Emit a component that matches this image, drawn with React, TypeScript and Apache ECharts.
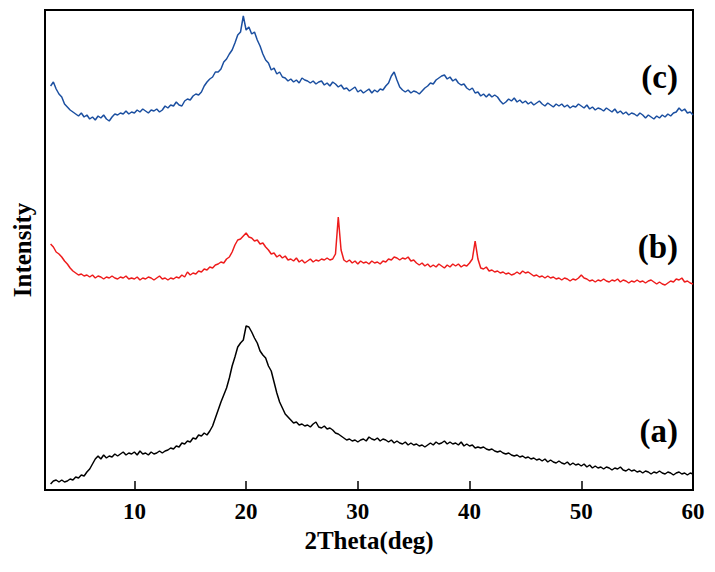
import React, { useEffect, useRef } from "react";
import * as echarts from "echarts";

// Measurement grid: 2θ from 2.5° to 60° every 0.25°
const ANGLE_START = 2.5;
const ANGLE_STEP = 0.25;

// (c) — blue curve (offset intensity, a.u.)
const seriesC = [
  404, 408, 401, 396, 393, 386, 383, 380, 378, 376,
  374, 377, 373, 375, 371, 373, 370, 374, 372, 375,
  371, 369, 373, 376, 375, 377, 376, 379, 376, 378,
  377, 380, 378, 381, 379, 377, 380, 379, 381, 378,
  380, 384, 382, 385, 384, 388, 385, 384, 389, 391,
  390, 394, 396, 395, 398, 404, 408, 411, 413, 418,
  418, 421, 428, 431, 436, 440, 447, 455, 458, 474,
  460, 463, 456, 458, 450, 444, 436, 430, 427, 420,
  422, 416, 418, 413, 412, 409, 411, 408, 410, 407,
  412, 410, 409, 407, 409, 406, 408, 409, 405, 407,
  404, 408, 406, 403, 405, 401, 402, 399, 401, 403,
  398, 400, 397, 399, 401, 397, 400, 398, 401, 400,
  404, 407, 414, 418, 410, 403, 400, 398, 400, 397,
  399, 398, 396, 399, 402, 404, 407, 406, 410, 412,
  414, 415, 411, 413, 409, 411, 407, 405, 406, 402,
  400, 402, 397, 398, 394, 396, 393, 396, 393, 395,
  393, 389, 386, 388, 391, 389, 392, 388, 390, 387,
  389, 386, 388, 385, 387, 389, 386, 384, 387, 385,
  383, 386, 384, 386, 383, 385, 382, 384, 383, 386,
  384, 382, 385, 381, 383, 380, 382, 381, 379, 382,
  380, 378, 381, 377, 379, 376, 378, 375, 377, 376,
  374, 377, 375, 372, 375, 373, 371, 374, 372, 375,
  373, 376, 374, 377, 378, 382, 379, 381, 377, 378,
  375,
];

// (b) — red curve
const seriesB = [
  246, 243, 238, 236, 233, 229, 226, 222, 219, 217,
  215, 216, 214, 215, 213, 215, 212, 214, 213, 211,
  213, 212, 214, 212, 211, 213, 212, 214, 211, 212,
  211, 213, 210, 212, 211, 213, 212, 210, 212, 214,
  211, 212, 210, 212, 211, 213, 212, 215, 213, 218,
  215, 217, 216, 219, 218, 221, 220, 223, 222, 225,
  226, 228, 227, 231, 233, 238, 245, 250, 251, 254,
  257, 253, 252, 249, 250, 246, 247, 243, 240, 236,
  237, 233, 235, 232, 234, 230, 231, 229, 232, 228,
  230, 227, 229, 231, 228, 230, 229, 231, 230, 232,
  230, 231, 236, 273, 240, 230, 228, 230, 227, 229,
  226, 229, 227, 228, 226, 229, 227, 228, 226, 229,
  228, 231, 230, 233, 232, 230, 232, 231, 233, 229,
  230, 227, 225, 227, 224, 226, 223, 225, 223, 226,
  224, 222, 225, 223, 226, 224, 226, 223, 225, 224,
  227, 231, 249, 231, 222, 221, 223, 219, 220, 218,
  219, 217, 218, 216, 217, 215, 216, 218, 216, 219,
  217, 218, 216, 214, 215, 213, 214, 212, 214, 212,
  213, 211, 212, 210, 212, 211, 209, 211, 210, 212,
  215, 212, 211, 209, 210, 208, 210, 209, 211, 209,
  208, 210, 209, 211, 208, 210, 209, 207, 209, 208,
  210, 208, 209, 207, 209, 210, 208, 206, 208, 206,
  205, 207, 209, 208, 211, 210, 212, 208, 209, 207,
  206,
];

// (a) — black curve
const seriesA = [
  6, 9, 10, 8, 10, 8, 9, 11, 10, 13,
  12, 15, 14, 18, 21, 26, 31, 34, 31, 35,
  32, 34, 33, 36, 34, 36, 38, 35, 37, 36,
  38, 35, 39, 36, 37, 35, 38, 36, 37, 39,
  37, 39, 40, 42, 41, 44, 43, 47, 46, 49,
  48, 52, 51, 55, 54, 57, 55, 59, 64, 72,
  80, 88, 95, 102, 112, 124, 133, 143, 147, 150,
  164, 163, 158, 152, 147, 139, 135, 132, 124, 119,
  108, 97, 88, 82, 76, 73, 70, 67, 68, 65,
  66, 64, 65, 63, 66, 68, 63, 62, 64, 61,
  62, 60, 57, 56, 54, 52, 50, 51, 49, 50,
  48, 50, 51, 49, 53, 51, 50, 52, 49, 51,
  50, 48, 50, 47, 49, 47, 46, 48, 45, 47,
  45, 46, 44, 45, 43, 45, 47, 45, 48, 46,
  47, 49, 46, 48, 46, 47, 45, 48, 44, 46,
  44, 45, 42, 43, 42, 43, 41, 40, 41, 39,
  38, 39, 37, 36, 37, 35, 34, 35, 33, 34,
  32, 33, 31, 32, 30, 31, 29, 31, 28, 30,
  28, 27, 29, 27, 26, 28, 25, 27, 25, 26,
  24, 26, 23, 25, 22, 24, 22, 23, 21, 23,
  22, 20, 22, 21, 23, 20, 19, 21, 19, 20,
  18, 19, 17, 19, 18, 16, 18, 17, 19, 17,
  16, 18, 17, 15, 17, 18, 16, 17, 15, 17,
  16,
];

const xTicks = [10, 20, 30, 40, 50, 60];
const curveLabels = ["(c)", "(b)", "(a)"];
const labelLevels = [413, 243, 59];

const FONT = "Liberation Serif";

function toPairs(values: number[]) {
  return values.map((v, i) => [ANGLE_START + i * ANGLE_STEP, v]);
}

export default function App() {
  const ref = useRef<HTMLDivElement>(null);

  useEffect(() => {
    if (!ref.current) return;
    const chart = echarts.init(ref.current, null, { renderer: "svg" });
    const lineSeries = (name: string, values: number[], color: string) => ({
      name,
      type: "line",
      data: toPairs(values),
      showSymbol: false,
      symbol: "none",
      lineStyle: { color, width: 1.5 },
      itemStyle: { color },
      z: 3,
    });
    chart.setOption({
      animation: false,
      backgroundColor: "#ffffff",
      textStyle: { fontFamily: FONT },
      grid: {
        left: 45,
        right: 22,
        top: 10,
        bottom: 82,
        show: true,
        borderColor: "#000",
        borderWidth: 2,
        backgroundColor: "transparent",
        containLabel: false,
      },
      xAxis: {
        type: "value",
        min: 2,
        max: 60,
        name: "2Theta(deg)",
        nameLocation: "middle",
        nameGap: 37,
        nameTextStyle: { fontFamily: FONT, fontWeight: "bold", fontSize: 25, color: "#000" },
        axisLine: { show: true, onZero: false, lineStyle: { color: "#000", width: 2 } },
        axisTick: {
          show: true,
          inside: true,
          length: 9,
          customValues: xTicks,
          lineStyle: { color: "#000", width: 1.5 },
        },
        axisLabel: {
          show: true,
          customValues: xTicks,
          margin: 10,
          fontFamily: FONT,
          fontWeight: "bold",
          fontSize: 23,
          color: "#000",
        },
        splitLine: { show: false },
      },
      yAxis: {
        type: "value",
        min: 0,
        max: 480,
        name: "Intensity",
        nameLocation: "middle",
        nameGap: 10,
        nameRotate: 90,
        nameTextStyle: { fontFamily: FONT, fontWeight: "bold", fontSize: 25, color: "#000" },
        axisLine: { show: true, lineStyle: { color: "#000", width: 2 } },
        axisTick: { show: false },
        axisLabel: { show: false },
        splitLine: { show: false },
      },
      series: [
        lineSeries("(a)", seriesA, "#000000"),
        lineSeries("(b)", seriesB, "#ee1c1c"),
        lineSeries("(c)", seriesC, "#1b4fa0"),
        {
          type: "scatter",
          data: curveLabels.map((t, i) => [60, labelLevels[i]]),
          symbolSize: 0,
          silent: true,
          itemStyle: { opacity: 1, color: "#000" },
          label: {
            show: true,
            position: "left",
            offset: [-10, 0],
            formatter: (p: any) => curveLabels[p.dataIndex],
            fontFamily: FONT,
            fontWeight: "bold",
            fontSize: 33,
            color: "#000000",
            opacity: 1,
            textBorderWidth: 0,
          },
          emphasis: { disabled: true },
          z: 4,
        },
      ],
    });
    return () => chart.dispose();
  }, []);

  return (
    <div
      ref={ref}
      style={{ position: "fixed", left: 0, top: 0, width: 715, height: 572, background: "#fff" }}
    />
  );
}
